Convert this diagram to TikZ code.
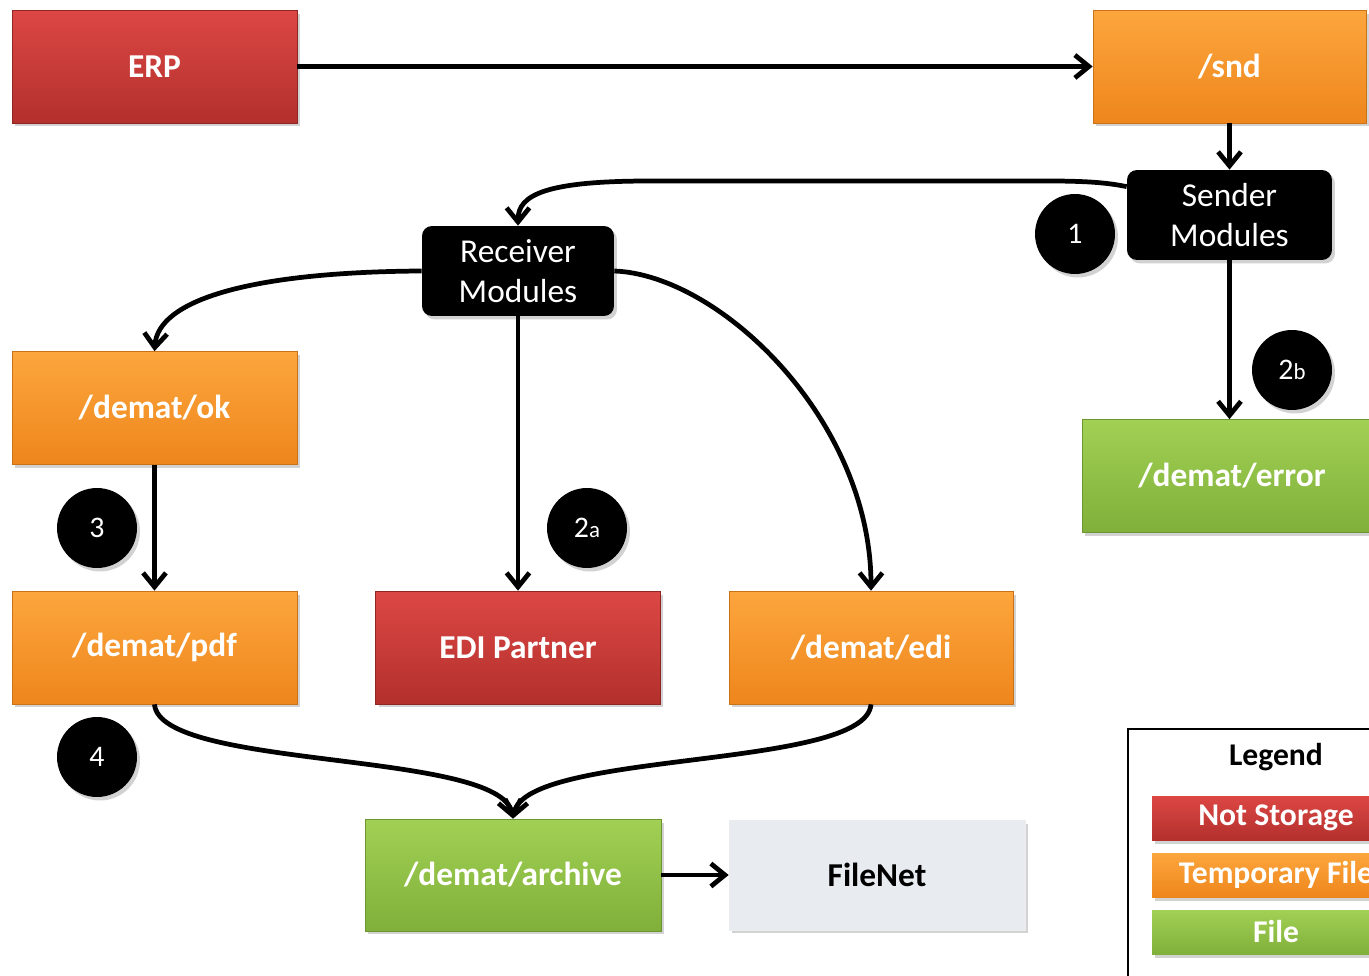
\documentclass[tikz,border=0pt]{standalone}
\usepackage{fontspec}
\setmainfont{Carlito}
\usetikzlibrary{arrows.meta,shadows,calc}
\definecolor{redtop}{HTML}{DC4744}
\definecolor{redbot}{HTML}{B3302D}
\definecolor{ortop}{HTML}{FCA63D}
\definecolor{orbot}{HTML}{EE861C}
\definecolor{grtop}{HTML}{A2D055}
\definecolor{grbot}{HTML}{80B03A}
\definecolor{fngray}{HTML}{E8EBF0}
\begin{document}
\begin{tikzpicture}[x=0.02cm,y=-0.02cm,
  shad/.style={drop shadow={opacity=0.35,shadow xshift=0.06cm,shadow yshift=-0.07cm}},
  box/.style={shad, inner sep=0pt, minimum width=5.7cm, minimum height=2.26cm,
    text=white, font=\fontsize{19}{23}\selectfont\bfseries},
  redbox/.style={box, top color=redtop, bottom color=redbot, draw=redbot!80!black, line width=0.4pt},
  orbox/.style={box, top color=ortop, bottom color=orbot, draw=orbot!85!black, line width=0.4pt},
  grbox/.style={box, top color=grtop, bottom color=grbot, draw=grbot!85!black, line width=0.4pt},
  module/.style={shad, fill=black, rounded corners=0.2cm, minimum height=1.8cm, inner sep=0pt,
    text=white, align=center, font=\fontsize{19}{23}\selectfont},
  num/.style={shad, circle, fill=black, minimum size=1.6cm, inner sep=0pt, text=white,
    font=\fontsize{17}{20}\selectfont},
  legitem/.style={shad, inner sep=0pt, minimum width=4.96cm, minimum height=0.88cm,
    text=white, font=\fontsize{18}{21}\selectfont\bfseries},
  conn/.style={line width=2.7pt, -{Straight Barb[length=8pt,width=13pt,line width=2.7pt]}}
]
\useasboundingbox (0,0) rectangle (1369,976);
\clip (0,0) rectangle (1369,976);
\fill[white] (0,0) rectangle (1369,976);

% boxes
\node[redbox] (erp) at (154.5,66.5) {ERP};
\node[orbox, minimum width=5.46cm] (snd) at (1229.5,66.5) {/snd};
\node[module, minimum width=4.1cm] (sender) at (1229.5,215) {Sender\\Modules};
\node[module, minimum width=3.84cm] (receiver) at (518,271) {Receiver\\Modules};
\node[orbox] (ok) at (154.5,408) {/demat/ok};
\node[grbox, minimum width=6cm] (error) at (1232,476) {/demat/error};
\node[orbox] (pdf) at (154.5,647.5) {/demat/pdf};
\node[redbox] (edip) at (518,647.5) {EDI Partner};
\node[orbox, minimum width=5.68cm] (edi) at (871,647.5) {/demat/edi};
\node[grbox, minimum width=5.92cm, minimum height=2.24cm] (archive) at (513,875) {/demat/archive};
\node[shad, fill=fngray, draw=white!85!gray, minimum width=5.92cm, minimum height=2.2cm,
  inner sep=0pt, text=black, font=\fontsize{19}{23}\selectfont\bfseries] (filenet) at (877,875) {FileNet};

% numbered circles
\node[num] (n1) at (1075,234) {1};
\node[num] (n2b) at (1292,370) {2{\fontsize{13}{15}\selectfont b}};
\node[num] (n3) at (97,528) {3};
\node[num] (n2a) at (587,528) {2{\fontsize{13}{15}\selectfont a}};
\node[num] (n4) at (97,757) {4};

% connectors
\draw[conn] (erp.east) -- (snd.west);
\draw[conn] (snd.south) -- (sender.north);
\draw[conn] ([yshift=-0.34cm]sender.north west) .. controls (1095,180) and (1060,181) .. (1000,181)
  -- (650,181) .. controls (545,181) and (518,195) .. (receiver.north);
\draw[conn] (sender.south) -- (sender.south |- error.north);
\draw[conn] (receiver.west) .. controls (250,272) and (158,300) .. (ok.north);
\draw[conn] (receiver.south) -- (edip.north);
\draw[conn] (receiver.east) .. controls (720,275) and (871,420) .. (edi.north);
\draw[conn] (ok.south) -- (pdf.north);
\draw[conn] (pdf.south) .. controls (160,770) and (500,750) .. (archive.north);
\draw[conn] (edi.south) .. controls (866,770) and (526,750) .. (archive.north);
\draw[conn] (archive.east) -- (filenet.west);

% legend
\node[draw=black, line width=1.2pt, fill=white, minimum width=5.6cm, minimum height=5.4cm,
  anchor=north west, inner sep=0pt] (legbox) at (1127,728) {};
\node[font=\fontsize{18}{21}\selectfont\bfseries, text=black] (legtitle) at (1276,757) {Legend};
\node[legitem, top color=redtop, bottom color=redbot] (leg1) at (1276,818) {Not Storage};
\node[legitem, top color=ortop, bottom color=orbot] (leg2) at (1276,875) {Temporary File};
\node[legitem, top color=grtop, bottom color=grbot] (leg3) at (1276,932) {File};
\end{tikzpicture}
\end{document}
